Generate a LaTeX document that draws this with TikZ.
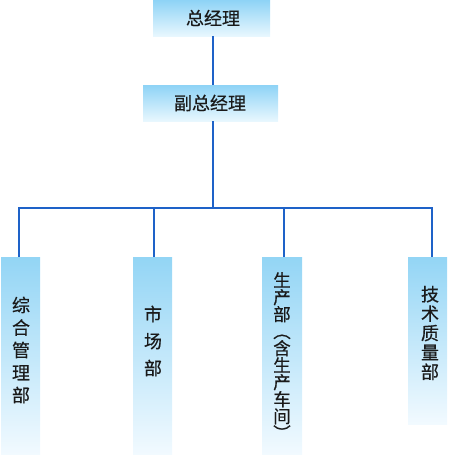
\documentclass[tikz,border=0pt]{standalone}
\usepackage{fontspec}
\newfontfamily\cjk[FakeBold=0.5]{Noto Sans CJK SC}
\definecolor{linkblue}{HTML}{1E62C8}
\definecolor{txt}{HTML}{1A1A1A}
\definecolor{boxtop}{HTML}{8ED3F6}
\definecolor{boxbot}{HTML}{E8F7FE}
\definecolor{coltop}{HTML}{93D5F5}
\definecolor{colbot}{HTML}{F2FAFF}
\tikzset{
  headbox/.style={rectangle, inner sep=0pt, top color=boxtop, bottom color=boxbot, draw=none},
  colbox/.style={rectangle, inner sep=0pt, top color=coltop, bottom color=colbot, draw=none},
  headtxt/.style={inner sep=0pt, text=txt, font=\cjk\fontsize{18}{20}\selectfont},
  coltxt/.style={inner sep=0pt, text=txt, align=center},
  link/.style={draw=linkblue, line width=1.1pt}
}
\begin{document}
\begin{tikzpicture}[x=1pt,y=-1pt]
\useasboundingbox (0,0) rectangle (450,455);
% head boxes
\node[headbox, minimum width=117pt, minimum height=36pt] (gm) at (211.5,18) {};
\node[headtxt] (gmt) at (213,18) {总经理};
\node[headbox, minimum width=135pt, minimum height=36pt] (vp) at (210.5,103) {};
\node[headtxt] (vpt) at (210,103) {副总经理};
% column boxes
\node[colbox, minimum width=39pt, minimum height=198pt] (b1) at (20.5,356) {};
\node[colbox, minimum width=39pt, minimum height=198pt] (b2) at (152.5,356) {};
\node[colbox, minimum width=40pt, minimum height=198pt] (b3) at (282,356) {};
\node[colbox, minimum width=39pt, minimum height=167pt] (b4) at (427.5,340.5) {};
% column labels
\node[coltxt, font=\cjk\fontsize{18}{22.5}\selectfont] (t1) at (21,350) {综\\合\\管\\理\\部};
\node[coltxt, font=\cjk\fontsize{18}{27}\selectfont] (t2) at (153,341) {市\\场\\部};
\node[coltxt, font=\cjk\fontsize{17.5}{17}\selectfont] (t3) at (282,356) {生\\产\\部\\︵\\含\\生\\产\\车\\间\\︶};
\node[coltxt, font=\cjk\fontsize{18}{19.4}\selectfont] (t4) at (430,333) {技\\术\\质\\量\\部};
% connectors
\coordinate (bus) at (213,208);
\coordinate (d1) at (19,257);
\coordinate (d2) at (154,257);
\coordinate (d3) at (284,257);
\coordinate (d4) at (432,257);
\draw[link] (gm.south -| bus) -- (vp.north -| bus);
\draw[link] (vp.south -| bus) -- (bus);
\draw[link] (d1) |- (bus) -| (d4);
\draw[link] (d2) -- (d2 |- bus);
\draw[link] (d3) -- (d3 |- bus);
\end{tikzpicture}
\end{document}
